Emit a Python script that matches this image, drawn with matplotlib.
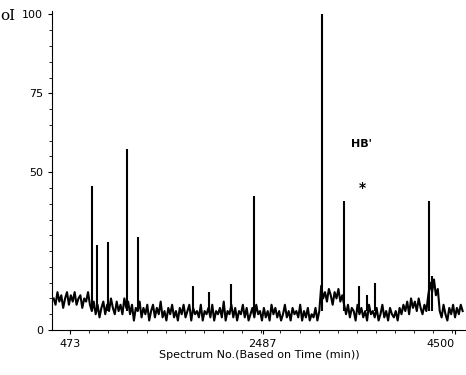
import numpy as np
import matplotlib.pyplot as plt

# baseline noise, one value every 20 spectra from 300
base_start = 300
base_step = 20
base_vals = [10, 8, 12, 9, 11, 7, 10, 12, 8, 11, 9, 12, 8, 10, 11, 7, 10, 9, 12, 8,
             6, 9, 5, 8, 4, 7, 9, 5, 8, 6, 10, 7, 5, 9, 6, 8, 5, 10, 7, 9,
             5, 8, 3, 7, 6, 9, 4, 7, 5, 8, 3, 6, 8, 4, 7, 5, 9, 4, 6, 3,
             7, 5, 8, 4, 6, 3, 7, 5, 8, 4, 6, 8, 3, 7, 5, 6, 4, 8, 3, 6,
             5, 7, 4, 8, 3, 6, 5, 7, 4, 9, 3, 6, 5, 8, 4, 7, 3, 6, 5, 8,
             4, 7, 3, 5, 7, 4, 8, 5, 6, 3, 7, 4, 6, 3, 8, 5, 7, 4, 6, 3,
             5, 8, 4, 6, 3, 7, 5, 6, 4, 8, 3, 6, 4, 7, 3, 5, 4, 7, 3, 6,
             14, 10, 12, 9, 13, 11, 8, 12, 10, 13, 9, 11, 8,
             5, 8, 4, 7, 6, 3, 8, 5, 7, 4, 6, 3, 8, 5, 6, 4, 7, 3, 5, 8,
             4, 6, 3, 7, 5, 4, 6, 3, 7, 5, 8, 6, 9, 5, 10, 7, 9, 6, 10, 7,
             5, 8, 6,
             11, 15, 12, 16, 11, 13,
             6, 4, 8, 5, 3, 7, 5, 8, 4, 7, 5, 8, 6]

# peaks (spectrum no., relative intensity %)
peak_x = [703, 755, 870, 1069, 1184, 1760, 1927, 2157, 2398,
          3109, 3339, 3496, 3580, 3664, 4228, 4260]
peak_y = [45.5, 27, 28, 57.5, 29.5, 14, 12, 14.5, 42.5,
          100, 41, 14, 11, 15, 41, 17]

xticks = [473, 2487, 4500]
yticks = [0, 50, 75, 100]

base_x = base_start + base_step * np.arange(len(base_vals))

fig = plt.figure(figsize=(4.66, 3.75), dpi=100)
ax = fig.add_axes([0.112, 0.12, 0.888, 0.85])

ax.plot(base_x, base_vals, color='black', lw=1.5)
ax.vlines(peak_x, 6, peak_y, color='black', lw=1.5)

ax.text(3517, 59, "HB'", fontsize=8, fontweight='bold', ha='center', va='center')
ax.text(3530, 45, "*", fontsize=10, fontweight='bold', ha='center', va='center')

ax.set_xlim(285, 4615)
ax.set_ylim(0, 101)
ax.set_xticks(xticks)
ax.set_xticks(np.arange(473, 4600, 200), minor=True)
ax.set_yticks(yticks)
ax.set_yticks(np.arange(0, 101, 5), minor=True)
ax.tick_params(labelsize=8, length=3, direction='out')
ax.tick_params(which='minor', length=2)
ax.get_xticklabels()[-1].set_ha('right')
for s in ['top', 'right']:
    ax.spines[s].set_visible(False)
ax.set_xlabel('Spectrum No.(Based on Time (min))', fontsize=8, labelpad=1)

fig.text(0.0, 0.975, 'oI', family='serif', fontsize=11, va='top')

plt.savefig('out.png', dpi=100)
